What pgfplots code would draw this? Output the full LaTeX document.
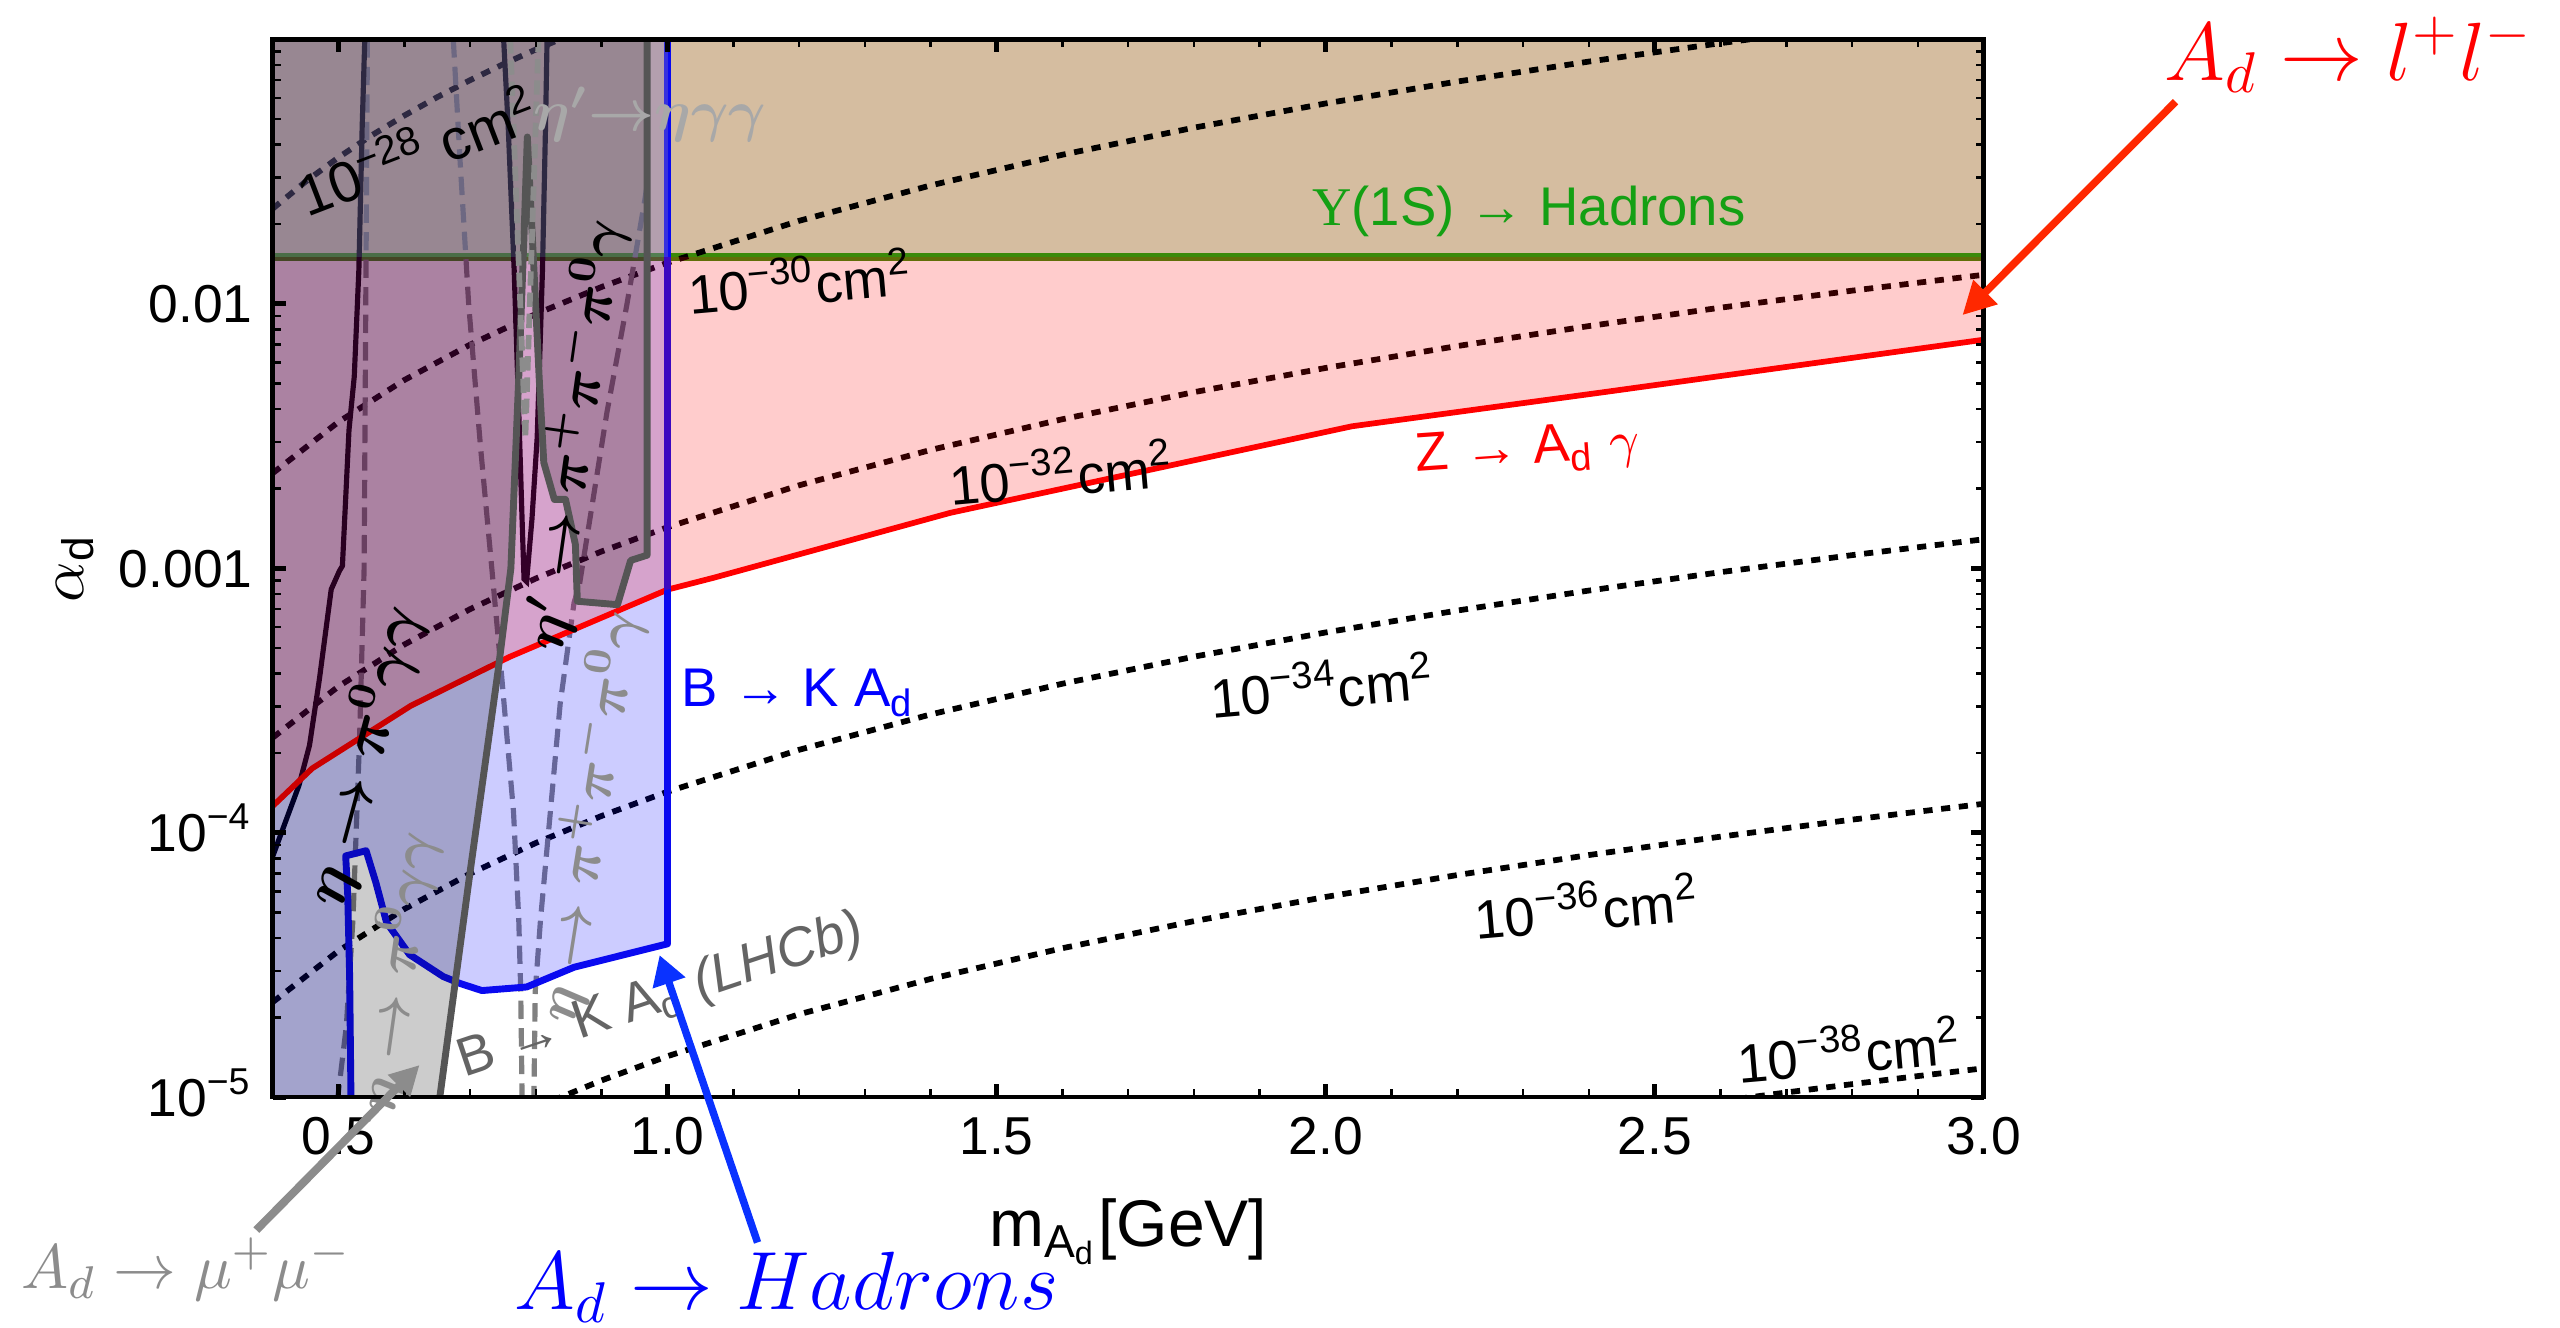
\documentclass[border=0pt]{standalone}
\usepackage{pgfplots}
\pgfplotsset{compat=1.18}
\usepackage{fontspec}
\setmainfont{Liberation Sans}
\newfontfamily\serifgreek{Liberation Serif}
\usetikzlibrary{arrows.meta}
\definecolor{tanc}{RGB}{213,189,160}
\definecolor{greenline}{RGB}{58,138,10}
\definecolor{greentext}{RGB}{20,160,20}
\definecolor{polygrey}{RGB}{85,85,85}
\definecolor{lgrey}{RGB}{140,140,140}
\definecolor{llgrey}{RGB}{168,168,168}
\definecolor{dgrey}{RGB}{100,100,100}
\definecolor{bline}{RGB}{10,10,240}
\definecolor{barrow}{RGB}{10,50,255}
\definecolor{rarrow}{RGB}{255,40,0}
\newcommand\lab{\fontsize{9.5}{11}\selectfont}
\tikzset{lbl/.style={inner sep=0pt, anchor=base west}}
\pgfplotsset{dotl/.style={black, line width=1.0pt, dash pattern=on 1.6pt off 1.5pt},
  dashl/.style={gray, line width=0.9pt, dash pattern=on 3.2pt off 1.6pt}}
\begin{document}
\begin{tikzpicture}
\useasboundingbox (-1.67,-1.41) rectangle (14.01,6.72);
\begin{axis}[
  at={(0,0)}, anchor=south west,
  width=10.48cm, height=6.48cm, scale only axis,
  xmin=0.4, xmax=3.0, ymin=1e-5, ymax=0.1,
  ymode=log,
  axis on top,
  clip mode=individual,
  xtick={0.5,1.0,1.5,2.0,2.5,3.0},
  xticklabels={0.5,1.0,1.5,2.0,2.5,3.0},
  minor xtick={0.6,0.7,0.8,0.9,1.1,1.2,1.3,1.4,1.6,1.7,1.8,1.9,2.1,2.2,2.3,2.4,2.6,2.7,2.8,2.9},
  ytick={1e-5,1e-4,1e-3,1e-2},
  yticklabels={10\textsuperscript{−5},10\textsuperscript{−4},0.001,0.01},
  minor ytick={2e-5,3e-5,4e-5,5e-5,6e-5,7e-5,8e-5,9e-5,2e-4,3e-4,4e-4,5e-4,6e-4,7e-4,8e-4,9e-4,2e-3,3e-3,4e-3,5e-3,6e-3,7e-3,8e-3,9e-3,2e-2,3e-2,4e-2,5e-2,6e-2,7e-2,8e-2,9e-2},
  tick align=inside,
  major tick length=0.08cm, minor tick length=0.05cm,
  major tick style={line width=0.9pt, black},
  minor tick style={line width=0.45pt, black},
  axis line style={line width=0.8pt},
  tick label style={font=\fontsize{9.3}{10}\selectfont},
  yticklabel style={anchor=base east, yshift=-3.3pt},
]
% Upsilon region (tan)
\addplot[draw=none, fill=tanc] coordinates {(0.4,0.015) (3.0,0.015) (3.0,0.1) (0.4,0.1)} -- cycle;
\addplot[greenline, line width=1.3pt] coordinates {(0.4,0.015) (3.0,0.015)};
% iso cross-section dotted lines
\addplot[dotl] coordinates {(0.4,0.02286) (0.45,0.02894) (0.5,0.03573) (0.55,0.04323) (0.6,0.05144) (0.65,0.06038) (0.7,0.07002) (0.75,0.08038) (0.8,0.09146) (0.85,0.10325)};
\addplot[dotl] coordinates {(0.4,0.002286) (0.5,0.003573) (0.6,0.005144) (0.7,0.007002) (0.8,0.009146) (0.9,0.011575) (1.0,0.01429) (1.2,0.020578) (1.4,0.028008) (1.6,0.036582) (1.8,0.0463) (2.0,0.05716) (2.2,0.069164) (2.4,0.08231) (2.6,0.0966) (2.7,0.104174)};
\addplot[dotl] coordinates {(0.4,2.286e-4) (0.5,3.573e-4) (0.6,5.144e-4) (0.7,7.002e-4) (0.8,9.146e-4) (0.9,1.1575e-3) (1.0,1.429e-3) (1.2,2.0578e-3) (1.4,2.8008e-3) (1.6,3.6582e-3) (1.8,4.63e-3) (2.0,5.716e-3) (2.2,6.9164e-3) (2.4,8.231e-3) (2.6,9.66e-3) (2.8,1.12034e-2) (3.0,1.2861e-2)};
\addplot[dotl] coordinates {(0.4,2.286e-5) (0.5,3.573e-5) (0.6,5.144e-5) (0.7,7.002e-5) (0.8,9.146e-5) (0.9,1.1575e-4) (1.0,1.429e-4) (1.2,2.0578e-4) (1.4,2.8008e-4) (1.6,3.6582e-4) (1.8,4.63e-4) (2.0,5.716e-4) (2.2,6.9164e-4) (2.4,8.231e-4) (2.6,9.66e-4) (2.8,1.12034e-3) (3.0,1.2861e-3)};
\addplot[dotl] coordinates {(0.8,9.146e-6) (0.9,1.1575e-5) (1.0,1.429e-5) (1.2,2.0578e-5) (1.4,2.8008e-5) (1.6,3.6582e-5) (1.8,4.63e-5) (2.0,5.716e-5) (2.2,6.9164e-5) (2.4,8.231e-5) (2.6,9.66e-5) (2.8,1.12034e-4) (3.0,1.2861e-4)};
\addplot[dotl] coordinates {(2.6,9.66e-6) (2.7,1.04174e-5) (2.8,1.12034e-5) (2.9,1.2018e-5) (3.0,1.2861e-5)};
% grey dashed boundaries (under overlays)
\addplot[dashl] coordinates {(0.544,0.1) (0.539,1e-3) (0.532,2.24e-4) (0.527,1.02e-4) (0.522,4.68e-5) (0.512,1.86e-5) (0.499,1e-5)};
\addplot[dashl] coordinates {(0.6745,0.1) (0.685,3.4e-2) (0.698,9.84e-3) (0.716,2.85e-3) (0.733,1e-3) (0.748,3.9e-4) (0.766,1.2e-4) (0.774,4.68e-5) (0.777,2.5e-5) (0.779,1e-5)};
\addplot[dashl] coordinates {(0.969,2.8e-2) (0.964,2.34e-2) (0.938,9.84e-3) (0.908,3.89e-3) (0.882,1.53e-3) (0.866,8.6e-4) (0.858,7.41e-4) (0.837,3.09e-4) (0.822,1.2e-4) (0.807,4.68e-5) (0.799,2.51e-5) (0.797,1e-5)};
% dark solid boundaries
\addplot[black, line width=0.9pt] coordinates {(0.4,8.13e-5) (0.44,1.51e-4) (0.456,2.14e-4) (0.471,3.8e-4) (0.489,8.32e-4) (0.5015,9.77e-4) (0.506,1.02e-3) (0.516,3.33e-3) (0.524,5.3e-3) (0.531,1.34e-2) (0.536,4.63e-2) (0.54,0.1)};
\addplot[black, line width=0.9pt] coordinates {(0.751,0.1) (0.758,4.63e-2) (0.767,1.34e-2) (0.774,3.89e-3) (0.779,1.53e-3) (0.782,9.1e-4) (0.786,8.9e-4) (0.787,9.6e-4) (0.794,1.53e-3) (0.802,3.13e-3) (0.81,1.34e-2) (0.8146,4.63e-2) (0.817,0.1)};
% B -> K A_d region
\addplot[draw=none, fill=blue, fill opacity=0.2] coordinates {(0.4,1e-5) (0.519,1e-5) (0.517,2.86e-5) (0.514,5.87e-5) (0.511,8.17e-5) (0.542,8.55e-5) (0.557,6.46e-5) (0.573,4.58e-5) (0.608,3.46e-5) (0.659,2.86e-5) (0.685,2.69e-5) (0.718,2.53e-5) (0.786,2.61e-5) (0.858,3.1e-5) (1.0,3.8e-5) (1.0,0.1) (0.4,0.1)} -- cycle;
% Z -> A_d gamma line
\addplot[red, line width=1.0pt] coordinates {(0.4,1.26e-4) (0.46,1.75e-4) (0.61,3.02e-4) (0.76,4.62e-4) (1.0,8.3e-4) (1.07,9.2e-4) (1.43,1.62e-3) (2.04,3.44e-3) (2.42,4.62e-3) (3.0,7.31e-3)};
\addplot[bline, line width=1.2pt, line join=round] coordinates {(0.519,1e-5) (0.517,2.86e-5) (0.514,5.87e-5) (0.511,8.17e-5) (0.542,8.55e-5) (0.557,6.46e-5) (0.573,4.58e-5) (0.608,3.46e-5) (0.659,2.86e-5) (0.685,2.69e-5) (0.718,2.53e-5) (0.786,2.61e-5) (0.858,3.1e-5) (1.0,3.8e-5) (1.0,0.1)};
% Z region (red alpha)
\addplot[draw=none, fill=red, fill opacity=0.2] coordinates {(0.4,1.26e-4) (0.46,1.75e-4) (0.61,3.02e-4) (0.76,4.62e-4) (1.0,8.3e-4) (1.07,9.2e-4) (1.43,1.62e-3) (2.04,3.44e-3) (2.42,4.62e-3) (3.0,7.31e-3) (3.0,0.015) (0.4,0.015)} -- cycle;
% grey (black alpha) region
\addplot[draw=none, fill=black, fill opacity=0.2] coordinates {(0.4,1e-5) (0.654,1e-5) (0.7,7.1e-5) (0.743,4.17e-4) (0.762,1e-3) (0.774,5.3e-3) (0.782,1.82e-2) (0.787,4.27e-2) (0.797,1.35e-2) (0.805,5.25e-3) (0.812,2.51e-3) (0.828,1.82e-3) (0.845,1.82e-3) (0.86,1.23e-3) (0.863,7.5e-4) (0.924,7.28e-4) (0.944,1.07e-3) (0.969,1.12e-3) (0.969,0.1) (0.4,0.1)} -- cycle;
\addplot[draw=none, fill=tanc, fill opacity=0.22] coordinates {(0.4,0.015) (1.0,0.015) (1.0,0.1) (0.4,0.1)} -- cycle;
% grey polygon outline
\addplot[polygrey, line width=1.2pt, line join=round] coordinates {(0.654,1e-5) (0.7,7.1e-5) (0.743,4.17e-4) (0.762,1e-3) (0.774,5.3e-3) (0.782,1.82e-2) (0.787,4.27e-2) (0.797,1.35e-2) (0.805,5.25e-3) (0.812,2.51e-3) (0.828,1.82e-3) (0.845,1.82e-3) (0.86,1.23e-3) (0.863,7.5e-4) (0.924,7.28e-4) (0.944,1.07e-3) (0.969,1.12e-3) (0.969,0.1)};
% light grey dashed on top
\addplot[lgrey, line width=1pt, dash pattern=on 2.5pt off 1.2pt] coordinates {(0.761,0.1) (0.784,3.1e-3) (0.804,0.1)};
% labels
\node[lbl, greentext, font=\lab] at (axis cs:1.978,0.0197) {{\serifgreek Υ}(1S) → Hadrons};
\node[lbl, red, font=\lab, rotate=4] at (axis cs:2.137,2.31e-3) {Z → A\textsubscript{d} $\gamma$};
\node[lbl, blue, font=\lab] at (axis cs:1.02,2.99e-4) {B → K A\textsubscript{d}};
\node[lbl, font=\lab, rotate=5] at (axis cs:1.0326,9.1e-3) {10\textsuperscript{−30}cm\textsuperscript{2}};
\node[lbl, font=\lab, rotate=5] at (axis cs:1.4295,1.72e-3) {10\textsuperscript{−32}cm\textsuperscript{2}};
\node[lbl, font=\lab, rotate=5] at (axis cs:1.826,2.70e-4) {10\textsuperscript{−34}cm\textsuperscript{2}};
\node[lbl, font=\lab, rotate=5] at (axis cs:2.228,3.93e-5) {10\textsuperscript{−36}cm\textsuperscript{2}};
\node[lbl, font=\lab, rotate=5] at (axis cs:2.627,1.13e-5) {10\textsuperscript{−38}cm\textsuperscript{2}};
\node[lbl, font=\fontsize{10}{12}\selectfont, rotate=21] at (axis cs:0.452,0.0211) {10\textsuperscript{−28} cm\textsuperscript{2}};
\node[lbl, llgrey, font=\fontsize{10}{12}\selectfont\boldmath] at (axis cs:0.795,0.0451) {$\eta'{\to}\eta\gamma\gamma$};
\node[anchor=center, font=\fontsize{10.5}{12}\selectfont\boldmath, rotate=75] at (axis cs:0.54,1.95e-4) {$\eta\to\pi^0\gamma\gamma$};
\node[anchor=center, lgrey, font=\fontsize{10}{12}\selectfont\boldmath, rotate=82] at (axis cs:0.589,2.97e-5) {$\eta\to\pi^0\gamma\gamma$};
\node[anchor=center, font=\fontsize{9.8}{12}\selectfont\boldmath, rotate=82] at (axis cs:0.859,3.2e-3) {$\eta'\to\pi^+\pi^-\pi^0\gamma$};
\node[anchor=center, lgrey, font=\fontsize{10}{12}\selectfont\boldmath, rotate=81] at (axis cs:0.881,1.15e-4) {$\eta\to\pi^+\pi^-\pi^0\gamma$};
\node[lbl, dgrey, font=\lab, rotate=18.5] at (axis cs:0.69,1.18e-5) {B → K A\textsubscript{d} \textit{(LHCb)}};
\end{axis}
% axis labels
\node[anchor=base, font=\fontsize{11.5}{13}\selectfont] at (5.24,-0.916) {m\textsubscript{A\textsubscript{d}}[GeV]};
\node[rotate=90, anchor=center, font=\fontsize{11}{13}\selectfont] at (-1.21,3.24) {$\alpha$\textsubscript{d}};
% annotations
\draw[rarrow, line width=1.3pt, -{Triangle[length=0.2cm, width=0.2cm]}] (11.655,6.097) -- (10.35,4.79);
\draw[barrow, line width=1.3pt, -{Triangle[length=0.18cm, width=0.2cm]}] (2.97,-0.89) -- (2.37,0.87);
\draw[lgrey, line width=1.4pt, -{Triangle[length=0.18cm, width=0.18cm]}] (-0.10,-0.814) -- (0.90,0.197);
\node[lbl, red, font=\fontsize{14.5}{16}\selectfont] at (11.58,6.23) {$A_d\to l^+l^-$};
\node[lbl, blue, font=\fontsize{14}{16}\selectfont] at (1.475,-1.303) {$A_d\to Hadrons$};
\node[lbl, lgrey, font=\fontsize{11.3}{13}\selectfont] at (-1.547,-1.17) {$A_d\to \mu^+\mu^-$};
\end{tikzpicture}
\end{document}
